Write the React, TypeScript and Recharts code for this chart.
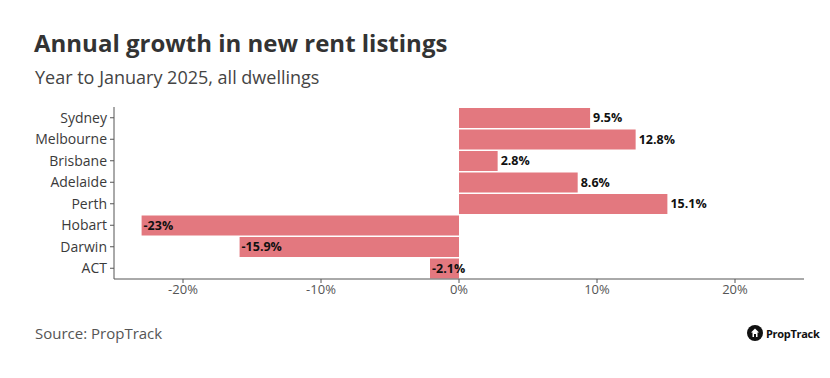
import { BarChart, Bar, XAxis, YAxis, LabelList } from "recharts";

const cities = ["Sydney", "Melbourne", "Brisbane", "Adelaide", "Perth", "Hobart", "Darwin", "ACT"];
const growth = [9.5, 12.8, 2.8, 8.6, 15.1, -23, -15.9, -2.1];
const xTicks = [-20, -10, 0, 10, 20];

const data = cities.map((city, i) => ({ city, value: growth[i] }));

const FONT = "'Open Sans', 'Noto Sans', sans-serif";
const BAR = "#e3787f";

function ValueLabel(props: any) {
  const { x, y, width, height, value } = props;
  const left = Math.min(x, x + width);
  const right = Math.max(x, x + width);
  const tx = value < 0 ? left + 2 : right + 3;
  return (
    <text
      x={tx}
      y={y + height / 2}
      dy="0.35em"
      textAnchor="start"
      fontSize={12.5}
      fontWeight={700}
      fill="#111"
      fontFamily={FONT}
    >
      {`${value}%`}
    </text>
  );
}

export default function App() {
  return (
    <div
      style={{
        position: "absolute",
        left: 0,
        top: 0,
        width: 830,
        height: 378,
        background: "#fff",
        fontFamily: FONT,
      }}
    >
      <div
        style={{
          position: "absolute",
          left: 34,
          top: 26,
          fontSize: 24,
          fontWeight: 700,
          color: "#333",
          whiteSpace: "nowrap",
        }}
      >
        Annual growth in new rent listings
      </div>
      <div
        style={{
          position: "absolute",
          left: 35,
          top: 65,
          fontSize: 18,
          color: "#444",
          whiteSpace: "nowrap",
        }}
      >
        Year to January 2025, all dwellings
      </div>

      <div style={{ position: "absolute", left: 0, top: 0 }}>
        <BarChart
          width={830}
          height={378}
          data={data}
          layout="vertical"
          margin={{ top: 107, right: 26, bottom: 69, left: 0 }}
          barCategoryGap={1}
        >
          <XAxis
            type="number"
            domain={[-25, 25]}
            ticks={xTicks}
            tickFormatter={(v) => `${v}%`}
            tick={{ fontSize: 13, fill: "#555", fontFamily: FONT }}
            tickSize={4}
            stroke="#555"
            height={30}
          />
          <YAxis
            type="category"
            dataKey="city"
            width={114}
            tick={{ fontSize: 14, fill: "#3a3a3a", fontFamily: FONT }}
            tickSize={4}
            tickMargin={3}
            stroke="#555"
          />
          <Bar dataKey="value" fill={BAR} isAnimationActive={false}>
            <LabelList dataKey="value" content={ValueLabel} />
          </Bar>
        </BarChart>
      </div>

      <div
        style={{
          position: "absolute",
          left: 35,
          top: 323,
          fontSize: 15,
          color: "#555",
          whiteSpace: "nowrap",
        }}
      >
        Source: PropTrack
      </div>
      <div
        style={{
          position: "absolute",
          left: 747,
          top: 325,
          display: "flex",
          alignItems: "center",
          gap: 3,
        }}
      >
        <svg width={16} height={16} viewBox="0 0 16 16">
          <circle cx={8} cy={8} r={8} fill="#111" />
          <path d="M8 3.5 L12 7.5 L10.5 7.5 L10.5 12 L5.5 12 L5.5 7.5 L4 7.5 Z" fill="#fff" />
          <rect x={7} y={9} width={2} height={3} fill="#111" />
        </svg>
        <span style={{ fontSize: 11, fontWeight: 700, color: "#111", letterSpacing: -0.3 }}>PropTrack</span>
      </div>
    </div>
  );
}
